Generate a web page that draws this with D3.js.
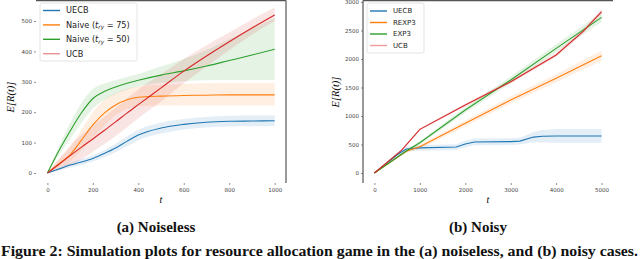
<!DOCTYPE html>
<html lang="en">
<head>
    <meta charset="UTF-8">
    <title>Figure 2</title>
    <style>
        body { margin: 0; background: #fff; }
        svg { display: block; }
        .tick text { font-family: "DejaVu Sans", sans-serif; font-size: 5.5px; fill: #444; }
        .tick line { stroke: #444; }
        .legend text { font-family: "DejaVu Sans", sans-serif; fill: #222; }
    </style>
</head>
<body>
    <script src="https://cdn.jsdelivr.net/npm/d3@7/dist/d3.min.js"></script>
    <script>
        var width = 640;
        var height = 259;

        // ---- (a) noiseless ----
        var tA = [0, 50, 100, 150, 200, 250, 300, 350, 400, 500, 600, 700, 800, 900, 1000];
        var uecbA     = [0, 13, 26, 36, 48, 64, 82, 104, 125, 148, 160, 167, 170, 171, 172];
        var uecbALo   = [0, 8, 18, 27, 38, 52, 68, 88, 108, 130, 143, 150, 153, 154, 155];
        var uecbAHi   = [0, 18, 34, 45, 58, 76, 96, 120, 142, 166, 178, 184, 188, 189, 190];
        var naive75   = [0, 30, 60, 108, 158, 197, 224, 241, 249, 253, 255, 256, 257, 257, 257];
        var naive75Lo = [0, 18, 38, 75, 115, 155, 190, 210, 220, 222, 222, 222, 222, 222, 222];
        var naive75Hi = [0, 44, 85, 142, 200, 240, 262, 276, 285, 290, 293, 295, 296, 296, 296];
        var naive50   = [0, 72, 138, 198, 245, 268, 283, 295, 305, 322, 336, 352, 370, 388, 407];
        var naive50Lo = [0, 58, 112, 165, 212, 240, 260, 274, 285, 296, 302, 305, 306, 306, 306];
        var naive50Hi = [0, 86, 164, 230, 276, 294, 306, 316, 326, 350, 375, 405, 440, 475, 510];
        var ucbA      = [0, 28, 57, 85, 112, 140, 168, 197, 225, 280, 335, 385, 432, 477, 520];
        var ucbALo    = [0, 10, 25, 45, 70, 95, 122, 150, 180, 235, 295, 350, 405, 455, 500];
        var ucbAHi    = [0, 45, 90, 125, 155, 185, 215, 245, 275, 325, 375, 420, 462, 505, 545];
        var xTicksA = [0, 200, 400, 600, 800, 1000];
        var yTicksA = [0, 100, 200, 300, 400, 500];

        // ---- (b) noisy ----
        var tUecbB  = [0, 500, 700, 1000, 1800, 2000, 2200, 3000, 3200, 3500, 3700, 4000, 5000];
        var uecbB   = [0, 320, 420, 440, 455, 510, 545, 550, 560, 630, 645, 650, 650];
        var uecbBLo = [0, 290, 380, 390, 405, 450, 485, 490, 500, 540, 535, 530, 530];
        var uecbBHi = [0, 350, 460, 490, 505, 570, 605, 610, 620, 720, 755, 770, 770];
        var tB      = [0, 700, 1000, 2000, 3000, 4000, 5000];
        var rexp3   = [0, 380, 462, 872, 1281, 1661, 2058];
        var rexp3Lo = [0, 350, 422, 822, 1221, 1591, 1968];
        var rexp3Hi = [0, 410, 502, 922, 1341, 1731, 2148];
        var exp3    = [0, 385, 532, 1105, 1632, 2187, 2731];
        var exp3Lo  = [0, 360, 502, 1055, 1572, 2117, 2651];
        var exp3Hi  = [0, 410, 562, 1155, 1692, 2257, 2811];
        var tUcbB   = [0, 600, 1000, 2000, 3000, 4000, 4600, 5000];
        var ucbB    = [0, 400, 766, 1193, 1602, 2070, 2490, 2830];
        var ucbBLo  = [0, 385, 746, 1168, 1572, 2035, 2450, 2780];
        var ucbBHi  = [0, 415, 786, 1218, 1632, 2105, 2530, 2880];
        var xTicksB = [0, 1000, 2000, 3000, 4000, 5000];
        var yTicksB = [0, 500, 1000, 1500, 2000, 2500, 3000];

        var blue = "#1f77b4", orange = "#ff7f0e", green = "#2ca02c", red = "#d62728";
        var serif = "'Liberation Serif', 'DejaVu Serif', serif";

        var svg = d3.select("body").append("svg")
            .attr("width", width)
            .attr("height", height);

        function zip(t, v, lo, hi) {
            return t.map(function(d, i) { return { t: d, v: v[i], lo: lo[i], hi: hi[i] }; });
        }

        // box = axes frame (l, r, t, b); x/y ranges = where domain ends land
        function panel(opt) {
            var g = svg.append("g");
            var box = opt.box;
            var x = d3.scaleLinear().domain(opt.xDom).range(opt.xRange);
            var y = d3.scaleLinear().domain(opt.yDom).range(opt.yRange);
            var curve = opt.curve;

            opt.series.forEach(function(s) {
                g.append("path")
                    .datum(s.data)
                    .attr("fill", s.color)
                    .attr("fill-opacity", 0.12)
                    .attr("d", d3.area().curve(curve)
                        .x(function(d) { return x(d.t); })
                        .y0(function(d) { return y(d.lo); })
                        .y1(function(d) { return y(d.hi); }));
            });
            opt.series.forEach(function(s) {
                g.append("path")
                    .datum(s.data)
                    .attr("fill", "none")
                    .attr("stroke", s.color)
                    .attr("stroke-width", 1.1)
                    .attr("d", d3.line().curve(curve)
                        .x(function(d) { return x(d.t); })
                        .y(function(d) { return y(d.v); }));
            });

            // axes: spines hidden, ticks kept
            var xa = g.append("g")
                .attr("transform", "translate(0," + box.b + ")")
                .call(d3.axisBottom(x).tickValues(opt.xTicks).tickFormat(d3.format("d"))
                    .tickSize(2).tickPadding(3));
            var ya = g.append("g")
                .attr("transform", "translate(" + box.l + ",0)")
                .call(d3.axisLeft(y).tickValues(opt.yTicks).tickFormat(d3.format("d"))
                    .tickSize(2).tickPadding(2));
            xa.select(".domain").remove();
            ya.select(".domain").remove();
            g.selectAll(".tick line").attr("stroke-width", 0.6);

            opt.spines.forEach(function(sp) {
                var p = {
                    top: [box.l, box.t, box.r, box.t],
                    right: [box.r, box.t, box.r, box.b],
                    left: [box.l, box.t, box.l, box.b]
                }[sp];
                g.append("line")
                    .attr("x1", p[0]).attr("y1", p[1]).attr("x2", p[2]).attr("y2", p[3])
                    .attr("stroke", "#555").attr("stroke-width", 1.2);
            });

            g.append("text")
                .attr("x", (box.l + box.r) / 2)
                .attr("y", box.b + 20)
                .attr("text-anchor", "middle")
                .style("font-family", serif)
                .style("font-style", "italic")
                .style("font-size", "10px")
                .text("t");
            g.append("text")
                .attr("transform", "translate(" + opt.yLabelX + "," + opt.yLabelY + ") rotate(-90)")
                .attr("text-anchor", "middle")
                .style("font-family", serif)
                .style("font-style", "italic")
                .style("font-size", "10.5px")
                .text("E[R(t)]");

            // legend
            var lg = g.append("g").attr("class", "legend");
            lg.append("rect")
                .attr("x", opt.leg.x).attr("y", opt.leg.y)
                .attr("width", opt.leg.w).attr("height", opt.leg.h)
                .attr("rx", 2)
                .attr("fill", "#fff").attr("fill-opacity", 0.85)
                .attr("stroke", "#ddd").attr("stroke-width", 0.8);
            opt.series.forEach(function(s, i) {
                var yy = opt.leg.y + opt.leg.first + i * opt.leg.step;
                lg.append("line")
                    .attr("x1", opt.leg.x + 3).attr("x2", opt.leg.x + 20)
                    .attr("y1", yy).attr("y2", yy)
                    .attr("stroke", s.color)
                    .attr("stroke-opacity", s.legendOpacity || 1)
                    .attr("stroke-width", 1.4);
                var tx = lg.append("text")
                    .attr("x", opt.leg.x + 26)
                    .attr("y", yy + opt.leg.fs * 0.35)
                    .style("font-size", opt.leg.fs + "px");
                if (s.sub) {
                    tx.append("tspan").text(s.name + " (");
                    tx.append("tspan").style("font-style", "italic").text("t");
                    tx.append("tspan").attr("dy", 1.5).style("font-size", (opt.leg.fs * 0.7) + "px")
                        .style("font-style", "italic").text(s.sub);
                    tx.append("tspan").attr("dy", -1.5).text(" = " + s.val + ")");
                } else {
                    tx.text(s.name);
                }
            });
        }

        panel({
            xDom: [0, 1000], yDom: [0, 500],
            box: { l: 36, r: 286, t: 0.6, b: 183 },
            xRange: [47.4, 274.7], yRange: [173, 21],
            xTicks: xTicksA, yTicks: yTicksA,
            curve: d3.curveMonotoneX,
            spines: ["top", "right"],
            yLabelX: 14, yLabelY: 97,
            leg: { x: 40, y: 3, w: 97, h: 58, first: 7.5, step: 14.4, fs: 8.2 },
            series: [
                { name: "UECB", color: blue, data: zip(tA, uecbA, uecbALo, uecbAHi) },
                { name: "Naive", sub: "ry", val: 75, color: orange, data: zip(tA, naive75, naive75Lo, naive75Hi) },
                { name: "Naive", sub: "ry", val: 50, color: green, data: zip(tA, naive50, naive50Lo, naive50Hi) },
                { name: "UCB", color: red, legendOpacity: 0.5, data: zip(tA, ucbA, ucbALo, ucbAHi) }
            ]
        });
        panel({
            xDom: [0, 5000], yDom: [0, 3000],
            box: { l: 363, r: 613, t: 0.6, b: 183 },
            xRange: [374.4, 601.6], yRange: [173, 2],
            xTicks: xTicksB, yTicks: yTicksB,
            curve: d3.curveLinear,
            spines: ["top", "left"],
            yLabelX: 339, yLabelY: 92,
            leg: { x: 367, y: 3, w: 57, h: 50, first: 8, step: 11.5, fs: 7 },
            series: [
                { name: "UECB", color: blue, data: zip(tUecbB, uecbB, uecbBLo, uecbBHi) },
                { name: "REXP3", color: orange, data: zip(tB, rexp3, rexp3Lo, rexp3Hi) },
                { name: "EXP3", color: green, data: zip(tB, exp3, exp3Lo, exp3Hi) },
                { name: "UCB", color: red, legendOpacity: 0.45, data: zip(tUcbB, ucbB, ucbBLo, ucbBHi) }
            ]
        });

        function caption(txt, xPos, yPos, anchor, len) {
            var t = svg.append("text")
                .attr("x", xPos).attr("y", yPos)
                .attr("text-anchor", anchor)
                .style("font-family", serif)
                .style("font-weight", "bold")
                .style("font-size", "15px")
                .style("fill", "#111")
                .text(txt);
            if (len) t.attr("textLength", len).attr("lengthAdjust", "spacingAndGlyphs");
        }
        caption("(a) Noiseless", 156, 232, "middle");
        caption("(b) Noisy", 478, 232, "middle");
        caption("Figure 2: Simulation plots for resource allocation game in the (a) noiseless, and (b) noisy cases.", 1, 256, "start", 637);
    </script>
</body>
</html>
